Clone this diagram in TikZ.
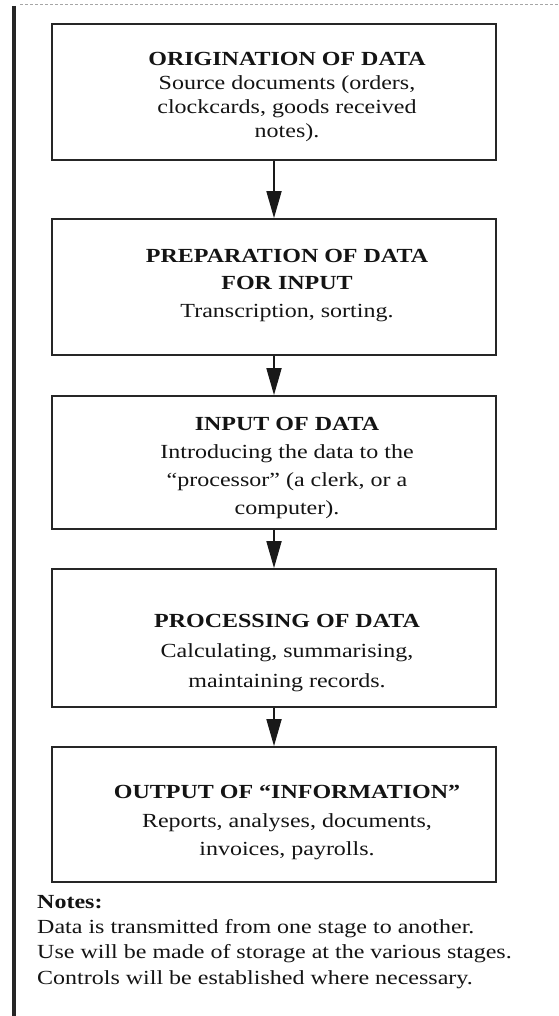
\documentclass[tikz,border=0pt]{standalone}
\usepackage{fontspec}
\setmainfont{Liberation Serif}[FakeStretch=1.2]
\usetikzlibrary{arrows.meta}
\begin{document}
\begin{tikzpicture}[x=1pt,y=-1pt,
  stagebox/.style={draw=black!85,line width=1.8pt,minimum width=444pt,inner sep=0pt},
  stagetext/.style={align=center,inner sep=0pt,text=black!92},
  flow/.style={draw=black!90,line width=1.8pt,-{Triangle[length=27pt,width=15pt]}},
  ls/.style={font=\fontsize{20}{#1}\selectfont}
]
\useasboundingbox (0,0) rectangle (558,1016);
\fill[white] (0,0) rectangle (558,1016);

% margin rule and clipped line above
\draw[line width=3.2pt,black!85] (14,6) -- (14,1016);
\draw[black!35,line width=1pt,dash pattern=on 3pt off 2pt] (20,5) -- (558,5);

% stage boxes
\node[stagebox,minimum height=136pt] (b1) at (274,92) {};
\node[stagebox,minimum height=136pt] (b2) at (274,287) {};
\node[stagebox,minimum height=133pt] (b3) at (274,462.5) {};
\node[stagebox,minimum height=138pt] (b4) at (274,638) {};
\node[stagebox,minimum height=135pt] (b5) at (274,814.5) {};

% stage texts
\node[stagetext,ls=24.3] (t1) at (287,97) {\textbf{ORIGINATION OF DATA}\\Source documents (orders,\\clockcards, goods received\\notes).};
\node[stagetext,ls=27.5] (t2) at (287,285.5) {\textbf{PREPARATION OF DATA}\\\textbf{FOR INPUT}\\Transcription, sorting.};
\node[stagetext,ls=28.3] (t3) at (287,468) {\textbf{INPUT OF DATA}\\Introducing the data to the\\``processor'' (a clerk, or a\\computer).};
\node[stagetext,ls=30] (t4) at (287,653) {\textbf{PROCESSING OF DATA}\\Calculating, summarising,\\maintaining records.};
\node[stagetext,ls=28.5] (t5) at (287,822.5) {\textbf{OUTPUT OF ``INFORMATION''}\\Reports, analyses, documents,\\invoices, payrolls.};

% flow between stages
\draw[flow] (b1.south) -- (b2.north);
\draw[flow] (b2.south) -- (b3.north);
\draw[flow] (b3.south) -- (b4.north);
\draw[flow] (b4.south) -- (b5.north);

% notes
\node[anchor=north west,align=left,inner sep=0pt,ls=25.3,text=black!92] (notes) at (37,895)
  {\textbf{Notes:}\\Data is transmitted from one stage to another.\\Use will be made of storage at the various stages.\\Controls will be established where necessary.};
\end{tikzpicture}
\end{document}
